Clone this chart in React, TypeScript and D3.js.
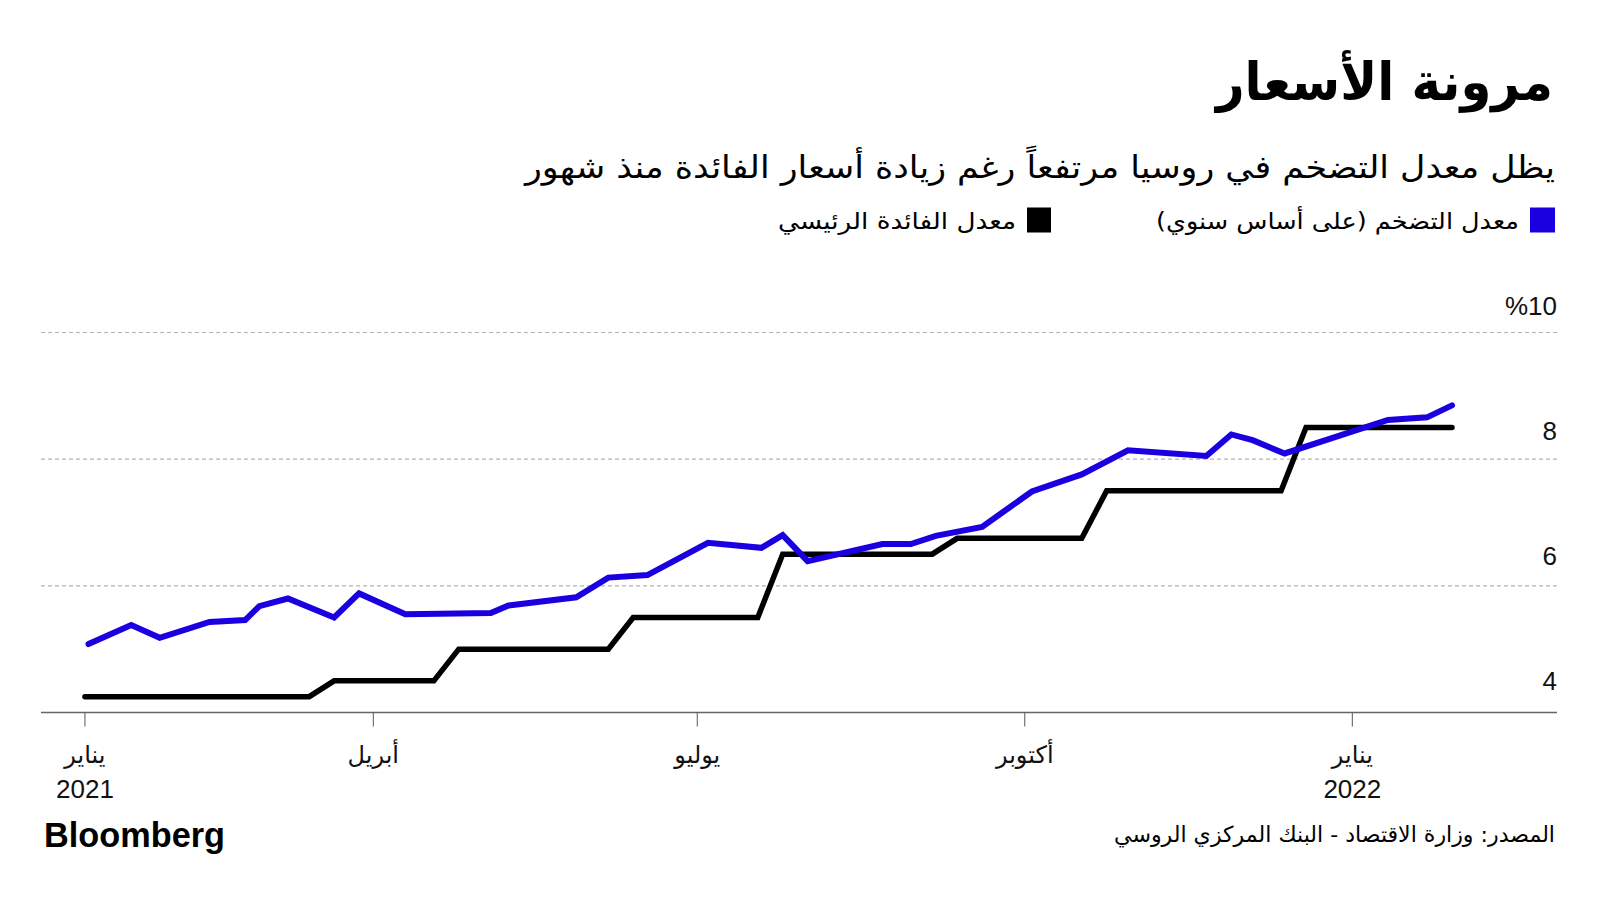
import * as d3 from 'd3'

// inflation (y/y), weekly estimates
const inflationDates = [
  '2021-01-11', '2021-01-23', '2021-01-31', '2021-02-14', '2021-02-24', '2021-02-28',
  '2021-03-08', '2021-03-21', '2021-03-28', '2021-04-10', '2021-05-04', '2021-05-09',
  '2021-05-28', '2021-06-06', '2021-06-17', '2021-07-04', '2021-07-19', '2021-07-25',
  '2021-08-01', '2021-08-22', '2021-08-30', '2021-09-06', '2021-09-19', '2021-10-03',
  '2021-10-17', '2021-10-30', '2021-11-21', '2021-11-28', '2021-12-04', '2021-12-13',
  '2022-01-11', '2022-01-22', '2022-01-29',
]
const inflationValues = [
  5.08, 5.38, 5.18, 5.43, 5.46, 5.68,
  5.8, 5.5, 5.88, 5.55, 5.57, 5.69,
  5.82, 6.13, 6.17, 6.68, 6.6, 6.8,
  6.39, 6.66, 6.66, 6.79, 6.93, 7.49,
  7.76, 8.14, 8.05, 8.39, 8.3, 8.09,
  8.62, 8.66, 8.85,
]

// key rate
const keyRateDates = [
  '2021-01-10', '2021-03-14', '2021-03-21', '2021-04-18', '2021-04-25', '2021-06-06',
  '2021-06-13', '2021-07-18', '2021-07-25', '2021-09-05', '2021-09-12', '2021-10-17',
  '2021-10-24', '2021-12-12', '2021-12-19', '2022-01-29',
]
const keyRateValues = [
  4.25, 4.25, 4.5, 4.5, 5.0, 5.0,
  5.5, 5.5, 6.5, 6.5, 6.75, 6.75,
  7.5, 7.5, 8.5, 8.5,
]

const xTickDates = ['2021-01-10', '2021-04-01', '2021-07-01', '2021-10-01', '2022-01-01']
const xTickMonths = ['يناير', 'أبريل', 'يوليو', 'أكتوبر', 'يناير']
const xTickYears = ['2021', '', '', '', '2022']
const yTicks = [4, 6, 8, 10]

const title = 'مرونة الأسعار'
const subtitle = 'يظل معدل التضخم في روسيا مرتفعاً رغم زيادة أسعار الفائدة منذ شهور'
const legendInflation = 'معدل التضخم (على أساس سنوي)'
const legendRate = 'معدل الفائدة الرئيسي'
const source = 'المصدر: وزارة الاقتصاد - البنك المركزي الروسي'

const BLUE = '#1a00e0'
const arabicFont = '"DejaVu Sans", sans-serif'
const numFont = '"Liberation Sans Narrow", "Liberation Sans", Arial, sans-serif'

const parse = d3.timeParse('%Y-%m-%d')

export default function App() {
  const width = 1600
  const height = 900
  const left = 41
  const right = 1557

  const x = d3
    .scaleTime()
    .domain([parse('2021-01-01')!, parse('2022-01-01')!])
    .range([52.9, 1352.3])
  const y = d3.scaleLinear().domain([4, 10]).range([712.5, 332.5])

  const inflation = inflationDates.map((d, i) => ({ date: parse(d)!, value: inflationValues[i] }))
  const keyRate = keyRateDates.map((d, i) => ({ date: parse(d)!, value: keyRateValues[i] }))

  const line = d3
    .line<{ date: Date; value: number }>()
    .x((d) => x(d.date))
    .y((d) => y(d.value))

  return (
    <svg
      width={width}
      height={height}
      style={{ position: 'absolute', left: 0, top: 0, background: '#fff' }}
    >
      {/* header */}
      <text
        x={1553}
        y={100}
        textAnchor="end"
        fontFamily={arabicFont}
        fontWeight="bold"
        fontSize={52}
        textLength={337}
        lengthAdjust="spacingAndGlyphs"
      >
        {title}
      </text>
      <text
        x={1555}
        y={178}
        textAnchor="end"
        fontFamily={arabicFont}
        fontSize={31}
        textLength={1030}
        lengthAdjust="spacingAndGlyphs"
      >
        {subtitle}
      </text>

      {/* legend */}
      <rect x={1530} y={207.5} width={25} height={25} fill={BLUE} />
      <text
        x={1519}
        y={229}
        textAnchor="end"
        fontFamily={arabicFont}
        fontSize={23}
        textLength={363}
        lengthAdjust="spacingAndGlyphs"
      >
        {legendInflation}
      </text>
      <rect x={1027} y={207.5} width={24} height={25} fill="#000" />
      <text
        x={1016}
        y={229}
        textAnchor="end"
        fontFamily={arabicFont}
        fontSize={23}
        textLength={238}
        lengthAdjust="spacingAndGlyphs"
      >
        {legendRate}
      </text>

      {/* grid */}
      {yTicks
        .filter((v) => v > 4)
        .map((v) => (
          <line
            key={v}
            x1={left}
            x2={right}
            y1={y(v)}
            y2={y(v)}
            stroke="#b3b3b3"
            strokeWidth={1.2}
            strokeDasharray="4,3"
          />
        ))}
      {yTicks.map((v) => (
        <text
          key={'l' + v}
          x={right}
          y={y(v) - 18 - (10 - v) * 0.8}
          textAnchor="end"
          fontFamily={numFont}
          fontSize={26}
          fill="#111"
        >
          {v === 10 ? '%10' : v}
        </text>
      ))}

      {/* x axis */}
      <line x1={left} x2={right} y1={y(4)} y2={y(4)} stroke="#666" strokeWidth={1.6} />
      {xTickDates.map((d, i) => {
        const tx = x(parse(d)!)
        return (
          <g key={d}>
            <line x1={tx} x2={tx} y1={y(4)} y2={y(4) + 14} stroke="#555" strokeWidth={1} />
            <text
              x={tx}
              y={763}
              textAnchor="middle"
              fontFamily={arabicFont}
              fontSize={24}
              fill="#111"
            >
              {xTickMonths[i]}
            </text>
            {xTickYears[i] && (
              <text
                x={tx}
                y={798}
                textAnchor="middle"
                fontFamily={numFont}
                fontSize={26}
                fill="#111"
              >
                {xTickYears[i]}
              </text>
            )}
          </g>
        )
      })}

      {/* lines */}
      <path
        d={line(keyRate)!}
        fill="none"
        stroke="#000"
        strokeWidth={5.5}
        strokeLinecap="round"
        strokeLinejoin="miter"
      />
      <path
        d={line(inflation)!}
        fill="none"
        stroke={BLUE}
        strokeWidth={6}
        strokeLinecap="round"
        strokeLinejoin="miter"
      />

      {/* footer */}
      <text
        x={44}
        y={846.5}
        fontFamily='"Liberation Sans", Arial, sans-serif'
        fontWeight="bold"
        fontSize={35}
        textLength={181}
        lengthAdjust="spacingAndGlyphs"
      >
        Bloomberg
      </text>
      <text
        x={1555}
        y={842}
        textAnchor="end"
        fontFamily={arabicFont}
        fontSize={22}
        textLength={441}
        lengthAdjust="spacingAndGlyphs"
      >
        {source}
      </text>
    </svg>
  )
}
